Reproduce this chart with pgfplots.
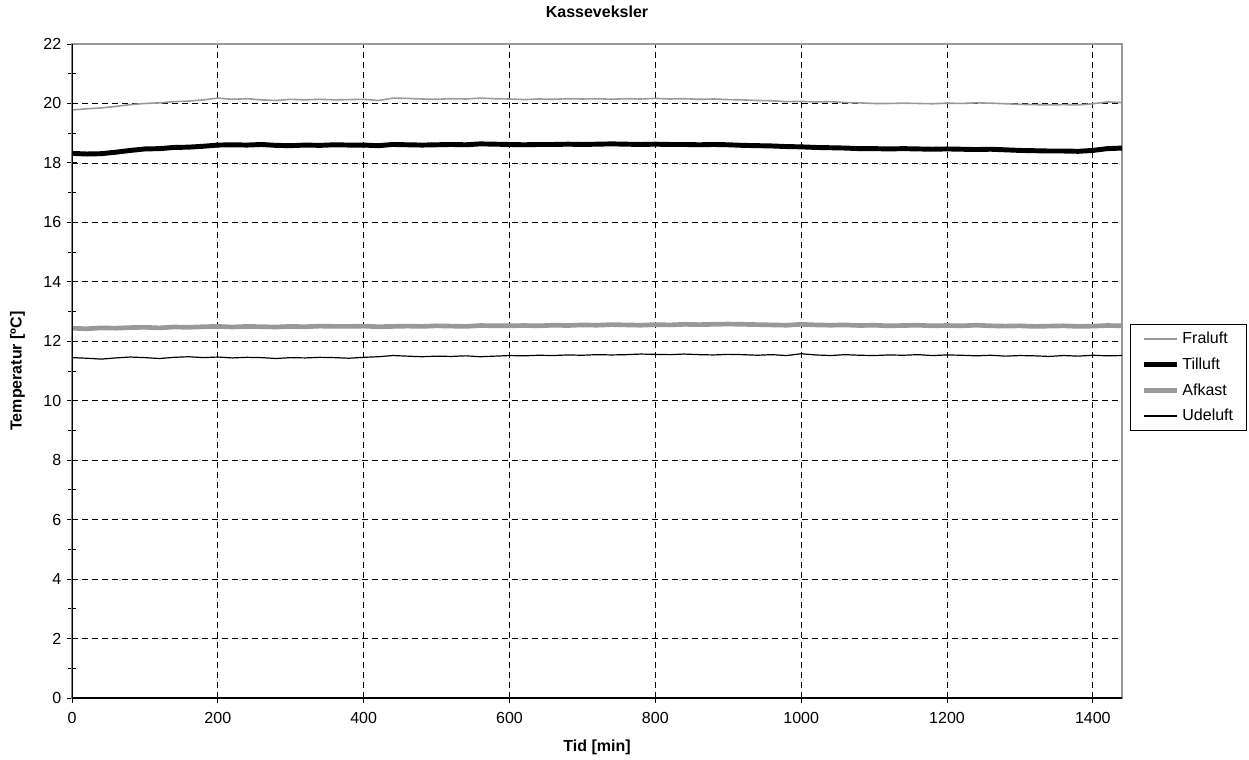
\documentclass[border=0pt]{standalone}
\usepackage{fontspec}
\setmainfont{Liberation Sans}
\usepackage{pgfplots}
\pgfplotsset{compat=1.18}
\usetikzlibrary{calc}
\definecolor{xlgray}{RGB}{153,153,153}

\begin{document}
\begin{tikzpicture}[font=\fontsize{12}{14}\selectfont]
\begin{axis}[
  name=ax,
  scale only axis, width=787.5pt, height=490.5pt,
  xmin=0, xmax=1440, ymin=0, ymax=22,
  xtick={0,200,...,1400}, ytick={0,2,...,22},
  minor y tick num=1,
  xtick pos=bottom, ytick pos=left,
  tick align=center,
  major tick length=7pt, minor tick length=5.5pt,
  tick style={black, line width=0.7pt},
  axis line style={xlgray, line width=0.8pt},
  grid=major,
  major grid style={black, line width=0.6pt, dash pattern=on 4.5pt off 3pt},
  /pgf/number format/assume math mode=true,
  /pgf/number format/1000 sep={},
  xticklabel style={yshift=-4pt},
  yticklabel style={xshift=-1pt},
  title={\textbf{Kasseveksler}},
  title style={yshift=10pt},
  xlabel={\textbf{Tid [min]}},
  ylabel={\textbf{Temperatur [ºC]}},
  xlabel style={yshift=-5pt},
  ylabel style={yshift=7pt},
  legend cell align=left,
  legend style={at={(1.008,0.49)}, anchor=west, draw=black, line width=0.6pt,
    inner xsep=8pt, inner ysep=4pt, row sep=5pt,
    /tikz/every even column/.append style={column sep=0pt}},
  legend image code/.code={\draw[#1] (0pt,0pt) -- (25pt,0pt);},
]
\addplot[xlgray, line width=1.2pt] coordinates {
(0,19.78) (20,19.82) (40,19.85) (60,19.90) (80,19.96) (100,20.00) (120,20.02) (140,20.06) (160,20.08) (180,20.12)
(200,20.18) (220,20.14) (240,20.16) (260,20.12) (280,20.10) (300,20.14) (320,20.12) (340,20.14) (360,20.12) (380,20.13)
(400,20.14) (420,20.10) (440,20.18) (460,20.17) (480,20.15) (500,20.14) (520,20.16) (540,20.15) (560,20.18) (580,20.16)
(600,20.15) (620,20.13) (640,20.15) (660,20.14) (680,20.16) (700,20.15) (720,20.16) (740,20.14) (760,20.16) (780,20.15)
(800,20.17) (820,20.15) (840,20.16) (860,20.14) (880,20.15) (900,20.13) (920,20.12) (940,20.10) (960,20.09) (980,20.06)
(1000,20.07) (1020,20.05) (1040,20.06) (1060,20.03) (1080,20.02) (1100,20.00) (1120,20.00) (1140,20.01) (1160,20.00) (1180,19.99)
(1200,20.01) (1220,20.00) (1240,20.02) (1260,20.01) (1280,19.99) (1300,19.97) (1320,19.96) (1340,19.95) (1360,19.96) (1380,19.95)
(1400,19.99) (1420,20.05) (1440,20.03)};
\addlegendentry{Fraluft}
\addplot[black, line width=3.7pt] coordinates {
(0,18.32) (20,18.30) (40,18.31) (60,18.36) (80,18.42) (100,18.47) (120,18.48) (140,18.52) (160,18.53) (180,18.56)
(200,18.60) (220,18.61) (240,18.60) (260,18.62) (280,18.59) (300,18.58) (320,18.60) (340,18.59) (360,18.61) (380,18.60)
(400,18.60) (420,18.58) (440,18.62) (460,18.61) (480,18.60) (500,18.61) (520,18.62) (540,18.61) (560,18.64) (580,18.63)
(600,18.62) (620,18.61) (640,18.62) (660,18.62) (680,18.63) (700,18.62) (720,18.63) (740,18.64) (760,18.63) (780,18.62)
(800,18.63) (820,18.62) (840,18.62) (860,18.61) (880,18.62) (900,18.61) (920,18.59) (940,18.58) (960,18.57) (980,18.55)
(1000,18.54) (1020,18.52) (1040,18.51) (1060,18.50) (1080,18.48) (1100,18.48) (1120,18.47) (1140,18.48) (1160,18.47) (1180,18.46)
(1200,18.47) (1220,18.46) (1240,18.45) (1260,18.46) (1280,18.44) (1300,18.42) (1320,18.41) (1340,18.40) (1360,18.40) (1380,18.39)
(1400,18.42) (1420,18.48) (1440,18.50)};
\addlegendentry{Tilluft}
\addplot[xlgray, line width=3.5pt] coordinates {
(0,12.44) (20,12.42) (40,12.45) (60,12.44) (80,12.46) (100,12.47) (120,12.45) (140,12.48) (160,12.47) (180,12.49)
(200,12.50) (220,12.48) (240,12.50) (260,12.49) (280,12.48) (300,12.50) (320,12.49) (340,12.51) (360,12.50) (380,12.50)
(400,12.51) (420,12.49) (440,12.50) (460,12.51) (480,12.50) (500,12.52) (520,12.51) (540,12.50) (560,12.53) (580,12.52)
(600,12.52) (620,12.53) (640,12.52) (660,12.54) (680,12.53) (700,12.55) (720,12.54) (740,12.56) (760,12.55) (780,12.54)
(800,12.56) (820,12.55) (840,12.57) (860,12.56) (880,12.57) (900,12.58) (920,12.57) (940,12.56) (960,12.55) (980,12.54)
(1000,12.57) (1020,12.55) (1040,12.54) (1060,12.55) (1080,12.53) (1100,12.54) (1120,12.52) (1140,12.53) (1160,12.54) (1180,12.52)
(1200,12.53) (1220,12.52) (1240,12.54) (1260,12.52) (1280,12.51) (1300,12.52) (1320,12.50) (1340,12.51) (1360,12.52) (1380,12.50)
(1400,12.51) (1420,12.53) (1440,12.52)};
\addlegendentry{Afkast}
\addplot[black, line width=0.9pt] coordinates {
(0,11.45) (20,11.43) (40,11.40) (60,11.44) (80,11.47) (100,11.45) (120,11.42) (140,11.46) (160,11.48) (180,11.45)
(200,11.47) (220,11.44) (240,11.46) (260,11.45) (280,11.42) (300,11.45) (320,11.44) (340,11.46) (360,11.45) (380,11.43)
(400,11.46) (420,11.48) (440,11.52) (460,11.50) (480,11.48) (500,11.50) (520,11.49) (540,11.51) (560,11.48) (580,11.50)
(600,11.52) (620,11.51) (640,11.53) (660,11.52) (680,11.54) (700,11.53) (720,11.55) (740,11.54) (760,11.55) (780,11.57)
(800,11.56) (820,11.55) (840,11.57) (860,11.55) (880,11.54) (900,11.56) (920,11.55) (940,11.53) (960,11.55) (980,11.52)
(1000,11.58) (1020,11.54) (1040,11.52) (1060,11.55) (1080,11.53) (1100,11.52) (1120,11.54) (1140,11.53) (1160,11.55) (1180,11.52)
(1200,11.54) (1220,11.53) (1240,11.51) (1260,11.53) (1280,11.50) (1300,11.52) (1320,11.51) (1340,11.49) (1360,11.52) (1380,11.50)
(1400,11.53) (1420,11.51) (1440,11.52)};
\addlegendentry{Udeluft}
\draw[black, line width=0.9pt] (rel axis cs:0,1) -- (rel axis cs:0,0) -- (rel axis cs:1,0);
\end{axis}
\path ($(ax.south west)+(-54pt,-45pt)$) rectangle ($(ax.south west)+(882.75pt,523.5pt)$);
\end{tikzpicture}
\end{document}
